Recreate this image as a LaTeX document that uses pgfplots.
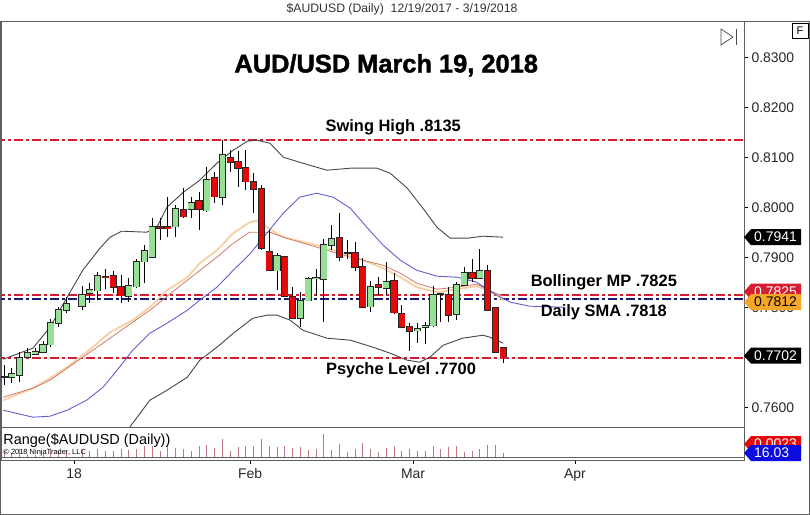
\documentclass[border=0pt]{standalone}
\usepackage{pgfplots}
\pgfplotsset{compat=1.18}
\usepackage{pgfplotstable}
\usepackage{fontspec}
\setmainfont{Liberation Sans}
\newfontfamily\heavyfont{Liberation Sans}[BoldFeatures={FakeBold=1.6}]

\definecolor{upgreen}{RGB}{150,224,150}
\definecolor{downred}{RGB}{228,10,10}
\definecolor{lvlred}{RGB}{214,28,48}
\definecolor{lvlnavy}{RGB}{22,30,120}
\definecolor{bandgray}{RGB}{70,70,70}
\definecolor{smablue}{RGB}{95,95,210}
\definecolor{emaorange}{RGB}{246,208,160}
\definecolor{emasalmon}{RGB}{210,120,105}
\definecolor{rangec}{RGB}{190,120,130}
\definecolor{flagorange}{RGB}{245,165,40}
\definecolor{flagblue}{RGB}{12,12,225}
\definecolor{framegray}{RGB}{95,95,95}

% daily candles: slot, open, high, low, close (slot 9 has no bar)
\pgfplotstableread{
i o h l c
0 .7661 .7685 .7645 .7661
1 .7661 .7679 .7649 .7667
2 .7665 .7711 .7651 .7700
3 .7701 .7719 .7699 .7709
4 .7707 .7719 .7705 .7711
5 .7711 .7733 .7709 .7725
6 .7726 .7777 .7721 .7769
7 .7769 .7802 .7761 .7795
8 .7795 .7821 .7789 .7807
10 .7803 .7844 .7795 .7826
11 .7829 .7849 .7809 .7835
12 .7834 .7871 .7815 .7863
13 .7862 .7877 .7837 .7860
14 .7863 .7874 .7829 .7841
15 .7842 .7865 .7810 .7824
16 .7823 .7859 .7811 .7843
17 .7842 .7897 .7840 .7892
18 .7892 .7925 .7849 .7913
19 .7901 .7979 .7900 .7962
20 .7962 .7979 .7935 .7959
21 .7961 .8021 .7941 .7959
22 .7962 .8005 .7941 .7997
23 .7995 .8039 .7979 .7982
24 .7997 .8021 .7979 .8009
25 .8014 .8032 .7955 .7997
26 .7994 .8082 .7992 .8055
27 .8059 .8072 .8010 .8022
28 .8021 .8135 .8005 .8105
29 .8099 .8115 .8072 .8091
30 .8091 .8113 .8042 .8079
31 .8079 .8115 .8035 .8052
32 .8052 .8069 .7989 .8037
33 .8037 .8045 .7915 .7919
34 .7911 .7955 .7874 .7875
35 .7874 .7909 .7835 .7904
36 .7901 .7903 .7822 .7823
37 .7821 .7841 .7778 .7779
38 .7779 .7831 .7761 .7813
39 .7814 .7862 .7813 .7857
40 .7859 .7878 .7823 .7860
41 .7857 .7937 .7771 .7925
42 .7925 .7965 .7915 .7937
43 .7939 .7989 .7893 .7901
44 .7909 .7935 .7897 .7909
45 .7910 .7932 .7873 .7881
46 .7881 .7899 .7800 .7801
47 .7802 .7853 .7792 .7841
48 .7845 .7861 .7825 .7841
49 .7839 .7891 .7825 .7852
50 .7853 .7869 .7787 .7790
51 .7787 .7805 .7760 .7761
52 .7761 .7769 .7714 .7753
53 .7754 .7769 .7729 .7758
54 .7761 .7772 .7727 .7764
55 .7764 .7843 .7761 .7825
56 .7827 .7829 .7771 .7827
57 .7825 .7841 .7772 .7785
58 .7787 .7851 .7775 .7845
59 .7845 .7881 .7843 .7870
60 .7870 .7897 .7851 .7859
61 .7859 .7917 .7857 .7874
62 .7874 .7885 .7795 .7795
63 .7799 .7801 .7711 .7711
64 .7719 .7719 .7689 .7702
}\candles

\pgfplotstableread{
x y
-0.1 .7697
3.7 .7719
5.9 .7761
8.1 .7821
10.1 .7875
12.3 .7919
13.6 .7941
15.1 .7953
18.3 .7951
19.6 .7961
20.9 .8001
23.0 .8031
25.1 .8055
27.3 .8089
29.4 .8115
31.2 .8133
32.4 .8135
34.1 .8129
35.8 .8101
38.3 .8089
41.4 .8075
44.4 .8079
47.8 .8079
49.5 .8069
51.7 .8039
53.7 .7999
55.5 .7961
57.2 .7939
59.4 .7939
61.4 .7943
64.0 .7941
}\upperband

\pgfplotstableread{
x y
14.9 .7535
16.5 .7569
18.7 .7615
20.9 .7635
23.5 .7661
25.1 .7695
27.3 .7721
29.4 .7749
31.9 .7779
33.7 .7785
35.0 .7785
36.7 .7775
38.3 .7755
41.4 .7739
44.4 .7735
47.3 .7721
49.5 .7709
51.7 .7695
53.3 .7691
54.6 .7701
56.3 .7725
58.8 .7739
61.4 .7745
62.3 .7741
64.0 .7729
}\lowerband

\pgfplotstableread{
x y
-0.1 .7595
3.7 .7581
5.9 .7583
8.1 .7595
10.6 .7615
12.7 .7641
14.5 .7675
16.5 .7715
18.7 .7749
20.9 .7769
23.5 .7795
25.1 .7815
27.3 .7841
29.4 .7875
31.5 .7907
33.7 .7949
35.8 .7989
37.9 .8021
40.1 .8029
42.2 .8021
44.4 .7999
46.5 .7961
48.6 .7925
50.8 .7895
52.9 .7875
55.5 .7863
58.1 .7861
60.6 .7851
62.7 .7829
64.9 .7811
67.4 .7803
71.7 .7801
}\smaline

\pgfplotstableread{
x y
-0.1 .7615
3.7 .7639
5.9 .7659
8.1 .7681
10.6 .7711
13.6 .7751
16.5 .7775
18.7 .7801
20.9 .7835
23.5 .7861
25.1 .7889
27.3 .7915
29.4 .7949
31.5 .7971
32.8 .7975
33.7 .7961
35.8 .7941
40.1 .7925
44.4 .7905
48.6 .7879
50.8 .7861
52.9 .7841
55.5 .7831
58.1 .7837
60.6 .7843
62.7 .7831
64.0 .7815
}\orangeline

\pgfplotstableread{
x y
-0.1 .7621
3.7 .7639
5.9 .7655
10.1 .7701
14.5 .7749
18.7 .7795
23.0 .7849
27.3 .7901
29.4 .7929
31.5 .7951
34.1 .7951
35.8 .7941
40.1 .7921
44.4 .7901
48.6 .7885
50.8 .7869
52.9 .7849
55.5 .7837
58.1 .7841
60.6 .7847
62.7 .7831
64.0 .7823
}\salmonline

\newcommand\flag[4]{%
  \fill[#2] (#1) -- ++(7bp,8bp) -- ++(50bp,0) -- ++(0,-16bp) -- ++(-50bp,0) -- cycle;
  \node[anchor=west, inner sep=0, text=#3, font=\fontsize{14}{16}\selectfont]
    at ([xshift=10bp]#1) {#4};}

\begin{document}
\begin{tikzpicture}
\useasboundingbox (0,0) rectangle (810bp,515bp);
\node[font=\fontsize{12.3}{14}\selectfont, text=black!80] at (402bp,506bp)
  {\$AUDUSD (Daily)\ \ 12/19/2017 - 3/19/2018};

\begin{axis}[
  at={(1bp,88bp)}, anchor=south west, scale only axis,
  width=743bp, height=406bp,
  xmin=-0.385, xmax=94.87, ymin=0.75614, ymax=0.83734,
  xtick=\empty,
  ytick={0.76,0.77,0.78,0.79,0.80,0.81,0.82,0.83},
  ytick pos=right, yticklabel pos=right,
  tick align=outside, major tick length=4bp,
  tick style={black, line width=0.6bp},
  y tick label style={font=\fontsize{14}{16}\selectfont, text=black!85,
    /pgf/number format/fixed, /pgf/number format/fixed zerofill,
    /pgf/number format/precision=4, /pgf/number format/assume math mode=true},
  axis line style={framegray, line width=0.8bp},
  clip mode=individual, no markers,
]
% level lines
\addplot[lvlred, line width=2bp, dash pattern=on 9bp off 3bp on 3bp off 3bp] coordinates {(-1,0.8135) (96,0.8135)};
\addplot[lvlred, line width=2bp, dash pattern=on 9bp off 3bp on 3bp off 3bp] coordinates {(-1,0.7825) (96,0.7825)};
\addplot[lvlnavy, line width=2bp, dash pattern=on 9bp off 3bp on 3bp off 3bp] coordinates {(-1,0.7818) (96,0.7818)};
\addplot[lvlred, line width=2bp, dash pattern=on 9bp off 3bp on 3bp off 3bp] coordinates {(-1,0.7700) (96,0.7700)};

% indicators
\addplot[emaorange, line width=1.8bp] table {\orangeline};
\addplot[emasalmon, line width=0.8bp] table {\salmonline};
\addplot[smablue, line width=0.9bp] table {\smaline};
\addplot[bandgray, line width=0.9bp] table {\upperband};
\addplot[bandgray, line width=0.9bp] table {\lowerband};

% candles: wicks, outlines, bodies
\addplot[draw=none, mark=none, error bars/.cd, y dir=both, y explicit, error mark=none,
  error bar style={solid, draw=black, line width=1bp}]
  table[x=i, y expr={(\thisrow{h}+\thisrow{l})/2}, y error expr={(\thisrow{h}-\thisrow{l})/2}] {\candles};
\addplot[draw=none, mark=none, error bars/.cd, y dir=both, y explicit, error mark=none,
  error bar style={solid, draw=black!85, line width=7.2bp}]
  table[x=i, y expr={(\thisrow{o}+\thisrow{c})/2}, y error expr={abs(\thisrow{c}-\thisrow{o})/2+0.00015}] {\candles};
\addplot[draw=none, mark=none, restrict expr to domain={\thisrow{c}-\thisrow{o}}{0:1},
  error bars/.cd, y dir=both, y explicit, error mark=none,
  error bar style={solid, draw=upgreen, line width=5.6bp}]
  table[x=i, y expr={(\thisrow{o}+\thisrow{c})/2}, y error expr={abs(\thisrow{c}-\thisrow{o})/2}] {\candles};
\addplot[draw=none, mark=none, restrict expr to domain={\thisrow{c}-\thisrow{o}}{-1:-0.00001},
  error bars/.cd, y dir=both, y explicit, error mark=none,
  error bar style={solid, draw=downred, line width=5.6bp}]
  table[x=i, y expr={(\thisrow{o}+\thisrow{c})/2}, y error expr={abs(\thisrow{c}-\thisrow{o})/2}] {\candles};

% annotations
\node[font={\heavyfont\bfseries\fontsize{25.5}{30}\selectfont}] at (axis cs:49.0,0.8285) {AUD/USD March 19, 2018};
\node[font={\bfseries\fontsize{16.5}{19}\selectfont}] at (axis cs:49.9,0.8161) {Swing High .8135};
\node[font={\bfseries\fontsize{16.5}{19}\selectfont}] at (axis cs:76.9,0.7851) {Bollinger MP .7825};
\node[font={\bfseries\fontsize{16.5}{19}\selectfont}] at (axis cs:76.9,0.7791) {Daily SMA .7818};
\node[font={\bfseries\fontsize{16.5}{19}\selectfont}] at (axis cs:50.9,0.7674) {Psyche Level .7700};

\coordinate (fa) at (axis cs:94.87,0.7941);
\coordinate (fb) at (axis cs:94.87,0.7832);
\coordinate (fc) at (axis cs:94.87,0.7811);
\coordinate (fd) at (axis cs:94.87,0.7704);
\end{axis}

\begin{axis}[
  at={(1bp,55bp)}, anchor=south west, scale only axis,
  width=743bp, height=33bp,
  xmin=-0.385, xmax=94.87, ymin=-0.00217, ymax=0.02166,
  ytick=\empty,
  xtick={9,31.54,52.44,73.2}, xticklabels={18,Feb,Mar,Apr},
  xtick pos=bottom, tick align=outside, major tick length=4bp,
  tick style={black, line width=0.6bp},
  x tick label style={font=\fontsize{14}{16}\selectfont, text=black!85, yshift=-1bp},
  axis line style={framegray, line width=0.8bp},
  clip mode=individual, no markers,
]
\addplot[ycomb, rangec, line width=1bp] table[x=i, y expr={\thisrow{h}-\thisrow{l}}] {\candles};
\addplot[framegray, line width=0.8bp] coordinates {(-1,0) (96,0)};
\node[anchor=west, inner sep=0, font=\fontsize{14.5}{16}\selectfont] at (rel axis cs:0.003,0.58) {Range(\$AUDUSD (Daily))};
\node[anchor=west, inner sep=0, font=\fontsize{7.5}{8}\selectfont] at (rel axis cs:0.003,0.24) {\textcopyright{} 2018 NinjaTrader, LLC};
\coordinate (fe) at (rel axis cs:1,0.48);
\coordinate (ff) at (rel axis cs:1,0.21);
\end{axis}

% outer frame and chart controls
\draw[framegray, line width=0.8bp] (0.5bp,0.5bp) rectangle (809.5bp,494bp);
\draw[black!70, line width=0.7bp] (721bp,486bp) -- (721bp,470bp) -- (733bp,478bp) -- cycle;
\draw[black!70, line width=0.9bp] (736bp,486bp) -- (736bp,470bp);
\draw[black, line width=0.6bp, fill=white] (792bp,477bp) rectangle (808bp,492bp);
\node[font=\fontsize{11}{12}\selectfont] at (800bp,484.5bp) {F};

% value flags on the price scale
\flag{fa}{black}{white}{0.7941}
\flag{fb}{lvlred}{white}{0.7825}
\flag{fc}{flagorange}{black}{0.7812}
\flag{fd}{black}{white}{0.7702}
\flag{fe}{downred}{white}{0.0023}
\flag{ff}{flagblue}{white}{16.03}
\end{tikzpicture}
\end{document}
